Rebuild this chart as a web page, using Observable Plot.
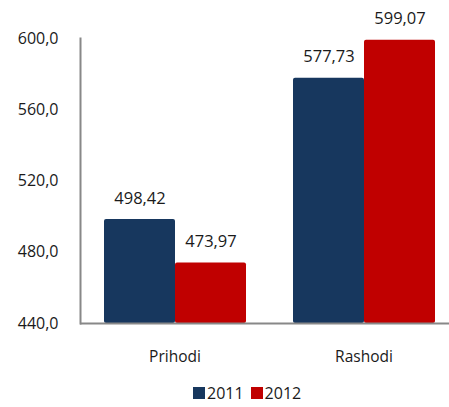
<!DOCTYPE html>
<html>
<head>
<meta charset="utf-8">
<script src="https://cdn.jsdelivr.net/npm/d3@7"></script>
<script src="https://cdn.jsdelivr.net/npm/@observablehq/plot@0.6"></script>
<style>
  html, body { margin: 0; padding: 0; background: #fff; }
  #legend { display: flex; align-items: center; height: 28px; margin-top: 9px; padding-left: 193px; font: 16px/20px "Open Sans", sans-serif; color: #1a1a1a; }
  #legend .item { display: flex; align-items: center; margin-right: 7px; }
  #legend .sw { width: 12px; height: 12px; margin-right: 2px; }
</style>
</head>
<body>
<div id="chart"></div>
<div id="legend"></div>
<script>
const categories = ["Prihodi", "Rashodi"];
const years = ["2011", "2012"];
const values2011 = [498.42, 577.73];
const values2012 = [473.97, 599.07];
const yTicks = [440, 480, 520, 560, 600];
const yDomain = [440, 600];
const colors = ["#17375E", "#C00000"];

const data = [];
categories.forEach((c, i) => {
  data.push({cat: c, year: years[0], value: values2011[i]});
  data.push({cat: c, year: years[1], value: values2012[i]});
});

const comma = (v, n) => v.toFixed(n).replace(".", ",");
const font = '"Open Sans", sans-serif';

const plot = Plot.plot({
  width: 449,
  height: 370,
  marginLeft: 80,
  marginRight: 0,
  marginTop: 38,
  marginBottom: 47,
  style: {fontFamily: font, fontSize: "16px", color: "#1a1a1a", background: "#fff"},
  fx: {domain: categories, range: [80, 458], paddingInner: 0, paddingOuter: 0, label: null, axis: null},
  x: {domain: years, paddingInner: 0, paddingOuter: 0.32, axis: null},
  y: {domain: yDomain, axis: null},
  color: {domain: years, range: colors},
  marks: [
    Plot.barY(data, {fx: "cat", x: "year", y1: yDomain[0], y2: "value", fill: "year", rx: 2}),
    Plot.text(data, {fx: "cat", x: "year", y: "value", text: d => comma(d.value, 2), dy: -21, fill: "#1a1a1a", fontSize: 16.5}),
    Plot.ruleY([yDomain[0]], {stroke: "#888", strokeWidth: 2}),
    Plot.frame({anchor: "left", facetAnchor: "left", stroke: "#888", strokeWidth: 2}),
    Plot.axisFx({anchor: "bottom", tickSize: 0, tickPadding: 27, label: null, fill: "#1a1a1a", fontSize: 15.5}),
    Plot.axisY({ticks: yTicks, tickFormat: d => comma(d, 1), tickSize: 0, tickPadding: 22, label: null, fill: "#1a1a1a", fontSize: 16})
  ]
});
document.getElementById("chart").appendChild(plot);
plot.style.display = "block";

const legend = d3.select("#legend");
years.forEach((y, i) => {
  const item = legend.append("div").attr("class", "item");
  item.append("div").attr("class", "sw").style("background", colors[i]);
  item.append("span").text(y);
});
</script>
</body>
</html>
